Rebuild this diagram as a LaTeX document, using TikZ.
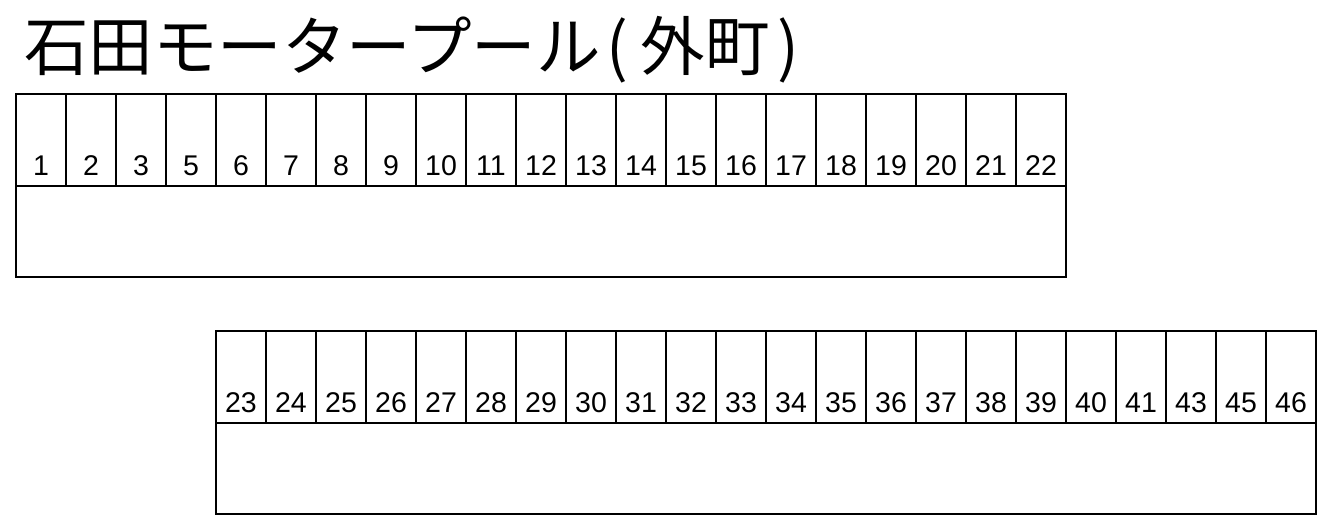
\documentclass[tikz,border=0pt]{standalone}
\usepackage{fontspec}
\setmainfont{Liberation Sans}
\newfontfamily\cjk{Noto Sans CJK JP}
\begin{document}
\begin{tikzpicture}[x=1pt,y=-1pt,
  cellbox/.style={draw=black,line width=2pt,minimum width=50pt,minimum height=92pt,inner sep=0pt,outer sep=0pt,anchor=north west},
  lowerbox/.style={draw=black,line width=2pt,minimum height=91pt,inner sep=0pt,outer sep=0pt,anchor=north west},
  numtext/.style={font=\fontsize{28.5}{28.5}\selectfont,anchor=base,inner sep=0pt}]
\useasboundingbox (0,0) rectangle (1332,532);
\node[font=\cjk\fontsize{64.5}{64.5}\selectfont,anchor=west,inner sep=0pt] (title) at (24,50) {石田モータープール\kern6pt(\kern12pt外町\kern8pt)};
% top row
\foreach \n [count=\i from 0] in {1,2,3,5,6,7,8,9,10,11,12,13,14,15,16,17,18,19,20,21,22}{
  \node[cellbox] (t\i) at (16+50*\i,94) {};
  \node[numtext] (tn\i) at (41+50*\i,175) {\n};
}
\node[lowerbox,minimum width=1050pt] (tlow) at (16,186) {};
% bottom row
\foreach \n [count=\i from 0] in {23,24,25,26,27,28,29,30,31,32,33,34,35,36,37,38,39,40,41,43,45,46}{
  \node[cellbox] (b\i) at (216+50*\i,331) {};
  \node[numtext] (bn\i) at (241+50*\i,412) {\n};
}
\node[lowerbox,minimum width=1100pt] (blow) at (216,423) {};
\end{tikzpicture}
\end{document}
